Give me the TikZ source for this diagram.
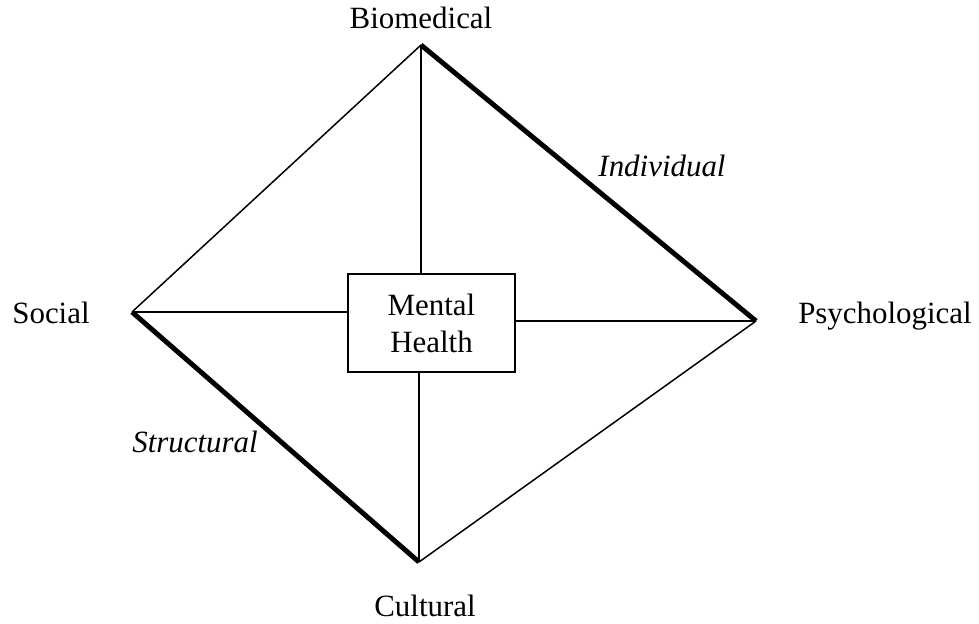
\documentclass[tikz,border=0pt]{standalone}
\usepackage{fontspec}
\setmainfont{Liberation Serif}
\usetikzlibrary{calc}
\tikzset{
  vlabel/.style={font=\fontsize{17.6}{21}\selectfont, anchor=base, inner sep=0pt},
  itlabel/.style={vlabel, font=\fontsize{17.6}{21}\selectfont\itshape},
  thinedge/.style={black, line width=0.85pt},
  thickedge/.style={black, line width=2.8pt},
}

\begin{document}
\begin{tikzpicture}[x=0.02cm,y=-0.02cm]
\useasboundingbox (0,0) rectangle (979,623);

% corners of the diamond
\coordinate (bio) at (421,45);
\coordinate (soc) at (132,312);
\coordinate (psy) at (756,321);
\coordinate (cul) at (419,562);

\node[draw, line width=1.1pt, minimum width=3.34cm, minimum height=1.96cm, inner sep=0pt,
  align=center, font=\fontsize{17.6}{21}\selectfont] (mh) at (431.5,323) {Mental\\Health};

% spokes to the box
\draw[thinedge] (bio) -- (bio |- mh.north);
\draw[thinedge] (cul) -- (cul |- mh.south);
\draw[thinedge] (soc) -- (soc -| mh.west);
\draw[thinedge] (psy) -- (psy -| mh.east);

% outline
\draw[thinedge] (soc) -- (bio);
\draw[thinedge] (psy) -- (cul);
\draw[thickedge] (bio) -- (psy);
\draw[thickedge] (soc) -- (cul);

\node[vlabel] (biolbl) at (421,28) {Biomedical};
\node[vlabel] (soclbl) at (51,323) {Social};
\node[vlabel] (psylbl) at (885,323) {Psychological};
\node[vlabel] (cullbl) at (425,616) {Cultural};
\node[itlabel] (indlbl) at (662,176) {Individual};
\node[itlabel] (strlbl) at (195,452) {Structural};
\end{tikzpicture}
\end{document}
